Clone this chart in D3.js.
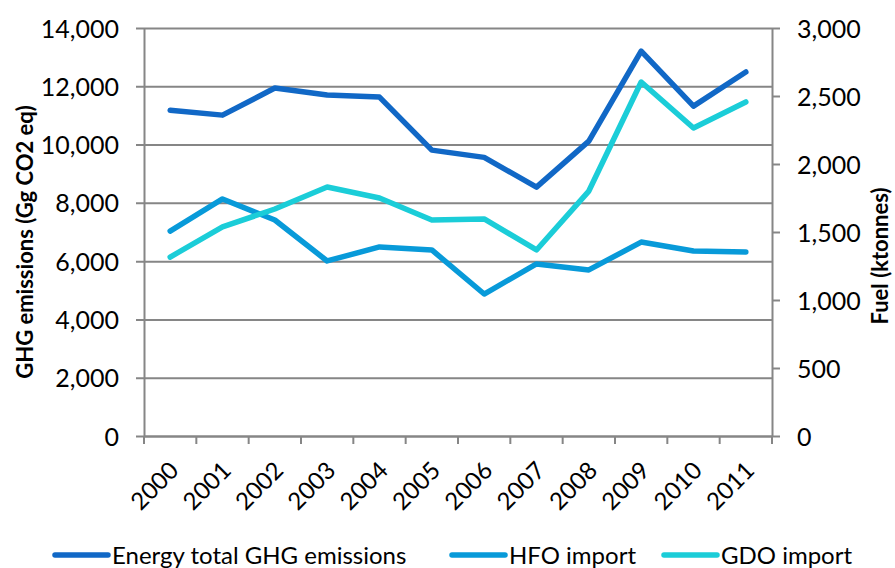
<!DOCTYPE html>
<html>
<head>
<meta charset="utf-8">
<script src="https://cdn.jsdelivr.net/npm/d3@7"></script>
<style>
  body { margin: 0; background: #fff; }
  text { font-family: Lato, "Open Sans", sans-serif; fill: #000; }
</style>
</head>
<body>
<div id="chart"></div>
<script>
let years = ['2000', '2001', '2002', '2003', '2004', '2005', '2006', '2007', '2008', '2009', '2010', '2011']
let energyTotal = [11180, 11010, 11940, 11700, 11630, 9810, 9560, 8540, 10120, 13210, 11320, 12490]
let hfoImport = [1507, 1743, 1588, 1287, 1390, 1368, 1044, 1265, 1221, 1426, 1360, 1353]
let gdoImport = [1316, 1537, 1669, 1831, 1750, 1588, 1596, 1368, 1801, 2603, 2265, 2456]
let leftTicks = [0, 2000, 4000, 6000, 8000, 10000, 12000, 14000]
let rightTicks = [0, 500, 1000, 1500, 2000, 2500, 3000]

let width = 895,
  height = 568,
  plot = {left: 144, right: 772, top: 28, bottom: 436}

let x = d3.scaleBand()
  .domain(years)
  .range([plot.left, plot.right])

let yLeft = d3.scaleLinear()
  .domain([0, 14000])
  .range([plot.bottom, plot.top])

let yRight = d3.scaleLinear()
  .domain([0, 3000])
  .range([plot.bottom, plot.top])

let svg = d3.select('#chart').append('svg')
  .attr('width', width)
  .attr('height', height)

let fmt = d3.format(',')
let gridColor = '#868686'

// left axis with gridlines
let leftAxis = svg.append('g')
  .attr('transform', 'translate(' + plot.left + ',0)')
  .call(d3.axisLeft(yLeft).tickValues(leftTicks).tickFormat(fmt)
    .tickSizeInner(-(plot.right - plot.left)).tickSizeOuter(0).tickPadding(25))
leftAxis.selectAll('.tick line')
  .attr('x1', -8)
  .attr('stroke', gridColor)
  .attr('stroke-width', 2)
leftAxis.select('.domain').attr('stroke', gridColor).attr('stroke-width', 2)
leftAxis.selectAll('text').style('font-size', '25px').attr('dy', '0.36em')

// right axis
let rightAxis = svg.append('g')
  .attr('transform', 'translate(' + plot.right + ',0)')
  .call(d3.axisRight(yRight).tickValues(rightTicks).tickFormat(fmt)
    .tickSizeInner(8).tickSizeOuter(0).tickPadding(17))
rightAxis.selectAll('.tick line').attr('stroke', gridColor).attr('stroke-width', 2)
rightAxis.select('.domain').attr('stroke', gridColor).attr('stroke-width', 2)
rightAxis.selectAll('text').style('font-size', '25px').attr('dy', '0.36em')

// x axis
let bottomAxis = svg.append('g')
  .attr('transform', 'translate(0,' + plot.bottom + ')')
  .call(d3.axisBottom(x).tickSize(0))
bottomAxis.select('.domain').attr('stroke', gridColor).attr('stroke-width', 2)
bottomAxis.selectAll('.tick text').remove()

// category boundary ticks
svg.append('g').selectAll('line')
  .data(d3.range(years.length + 1))
  .enter().append('line')
  .attr('x1', function (d) { return plot.left + d * x.step() })
  .attr('x2', function (d) { return plot.left + d * x.step() })
  .attr('y1', plot.bottom)
  .attr('y2', plot.bottom + 8)
  .attr('stroke', gridColor)
  .attr('stroke-width', 2)

svg.append('g').selectAll('text')
  .data(years)
  .enter().append('text')
  .text(function (d) { return d })
  .attr('text-anchor', 'end')
  .style('font-size', '24px')
  .attr('transform', function (d) {
    let cx = x(d) + x.bandwidth() / 2 + 10
    return 'translate(' + cx + ',' + (plot.bottom + 36) + ') rotate(-45)'
  })

// axis titles
svg.append('text')
  .text('GHG emissions (Gg CO2 eq)')
  .attr('text-anchor', 'middle')
  .attr('font-weight', 'bold')
  .style('font-size', '22px')
  .attr('transform', 'translate(33,242) rotate(-90)')

svg.append('text')
  .text('Fuel (ktonnes)')
  .attr('text-anchor', 'middle')
  .attr('font-weight', 'bold')
  .style('font-size', '22px')
  .attr('transform', 'translate(888,256) rotate(-90)')

let series = [
  {name: 'Energy total GHG emissions', values: energyTotal, scale: yLeft, color: '#1168C6'},
  {name: 'HFO import', values: hfoImport, scale: yRight, color: '#089AD9'},
  {name: 'GDO import', values: gdoImport, scale: yRight, color: '#1BCDD8'}
]

let drawOrder = [series[1], series[2], series[0]]
drawOrder.forEach(function (s) {
  let line = d3.line()
    .x(function (d, i) { return x(years[i]) + x.bandwidth() / 2 })
    .y(function (d) { return s.scale(d) })
  svg.append('path')
    .datum(s.values)
    .attr('d', line)
    .attr('fill', 'none')
    .attr('stroke', s.color)
    .attr('stroke-width', 5.5)
    .attr('stroke-linejoin', 'round')
    .attr('stroke-linecap', 'round')
})

// legend
let legendX = [55, 452, 664]
let legend = svg.append('g').selectAll('g')
  .data(series)
  .enter().append('g')
  .attr('transform', function (d, i) { return 'translate(' + legendX[i] + ',555)' })
legend.append('line')
  .attr('x1', 0).attr('x2', 53)
  .attr('y1', 0).attr('y2', 0)
  .attr('stroke', function (d) { return d.color })
  .attr('stroke-width', 5.5)
  .attr('stroke-linecap', 'round')
legend.append('text')
  .text(function (d) { return d.name })
  .attr('x', 57)
  .attr('y', 9)
  .style('font-size', '24px')
</script>
</body>
</html>
